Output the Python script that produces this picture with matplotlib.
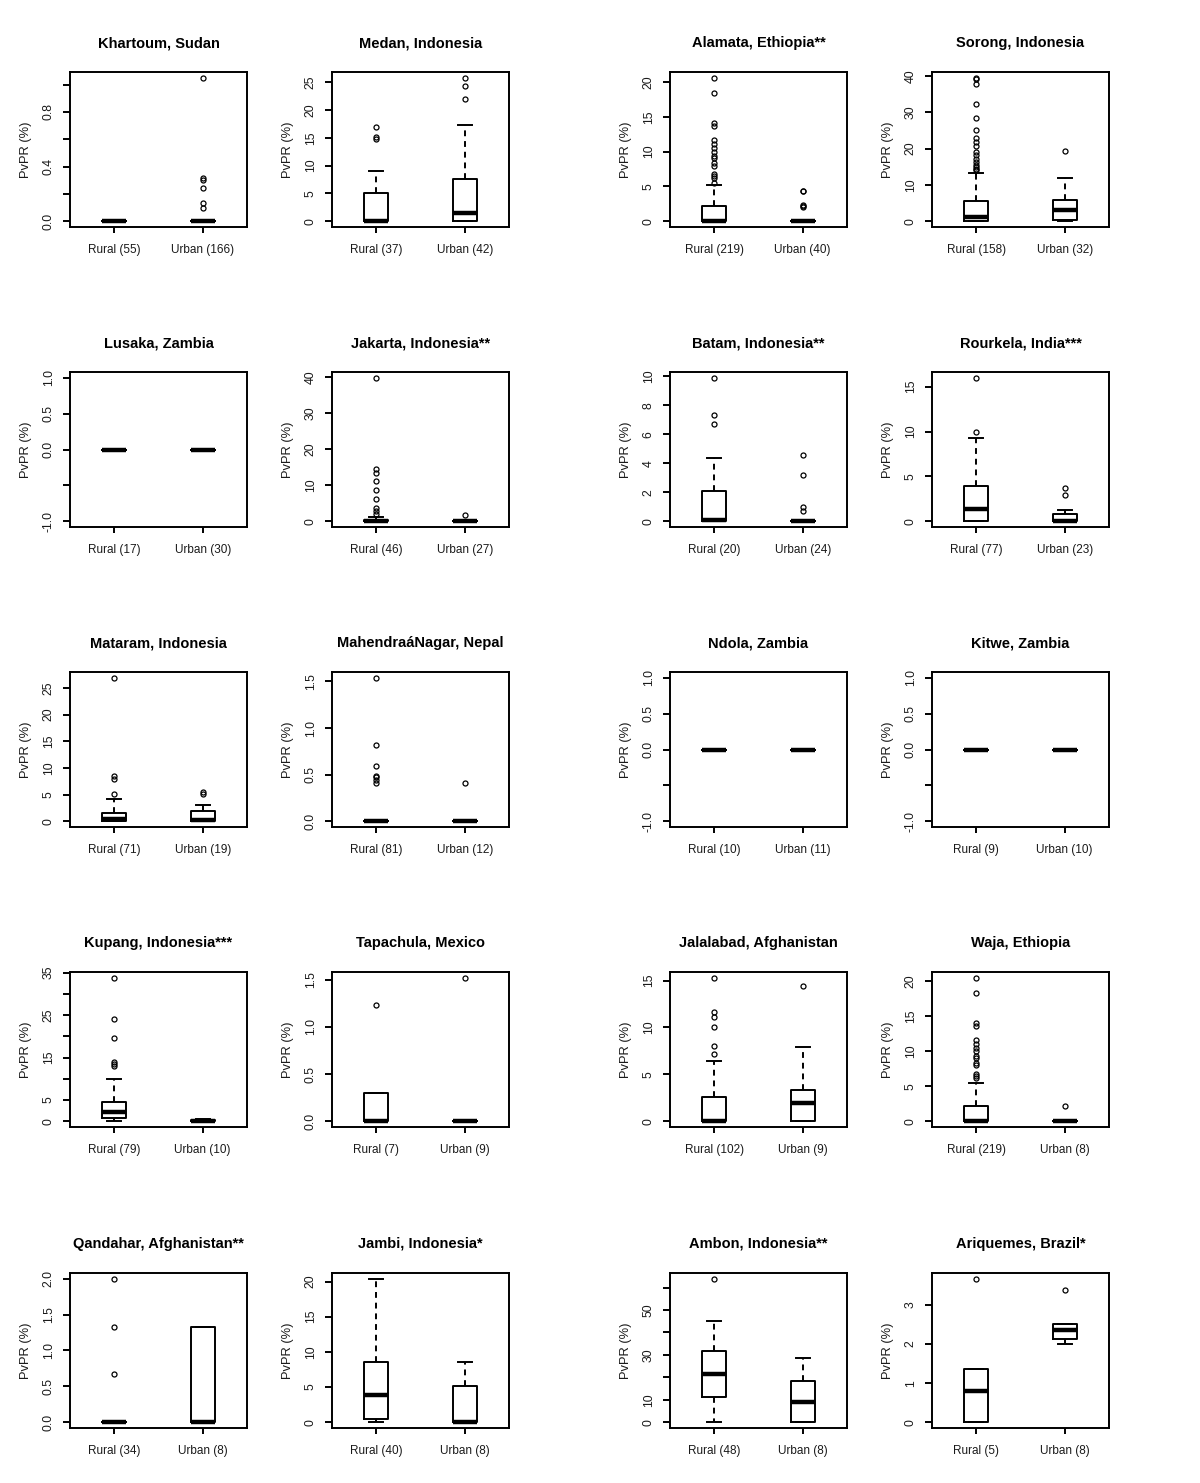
import numpy as np
import matplotlib
matplotlib.use("Agg")
import matplotlib.pyplot as plt

# ============================================================================
# DATA
# ============================================================================
titles = [
    "Khartoum, Sudan", "Medan, Indonesia", "Alamata, Ethiopia**", "Sorong, Indonesia",
    "Lusaka, Zambia", "Jakarta, Indonesia**", "Batam, Indonesia**", "Rourkela, India***",
    "Mataram, Indonesia", "MahendraáNagar, Nepal", "Ndola, Zambia", "Kitwe, Zambia",
    "Kupang, Indonesia***", "Tapachula, Mexico", "Jalalabad, Afghanistan", "Waja, Ethiopia",
    "Qandahar, Afghanistan**", "Jambi, Indonesia*", "Ambon, Indonesia**", "Ariquemes, Brazil*",
]
rural_n = [55, 37, 219, 158, 17, 46, 20, 77, 71, 81, 10, 9, 79, 7, 102, 219, 34, 40, 48, 5]
urban_n = [166, 42, 40, 32, 30, 27, 24, 23, 19, 12, 11, 10, 10, 9, 9, 8, 8, 8, 8, 8]

# (whisker low, q1, median, q3, whisker high)
rural_box = [
    (0, 0, 0, 0, 0), (0, 0, 0, 5.0, 9.1), (0, 0, 0, 2.2, 5.2), (0, 0, 1.1, 5.6, 13.3),
    (0, 0, 0, 0, 0), (0, 0, 0, 0.4, 1.2), (0, 0, 0.1, 2.1, 4.35), (0, 0, 1.35, 3.9, 9.25),
    (0, 0, 0.5, 1.6, 4.1), (0, 0, 0, 0, 0), (0, 0, 0, 0, 0), (0, 0, 0, 0, 0),
    (0, 0.7, 2.2, 4.6, 10.0), (0, 0, 0, 0.3, 0.3), (0, 0, 0, 2.6, 6.4), (0, 0, 0, 2.2, 5.4),
    (0, 0, 0, 0, 0), (0, 0.4, 3.9, 8.5, 20.4), (0, 11.4, 21.5, 31.9, 44.9), (0, 0, 0.8, 1.37, 1.37),
]
rural_fliers = [
    [],
    [14.7, 15.1, 16.9],
    [5.5, 6.2, 6.5, 6.8, 8.0, 8.3, 9.1, 9.3, 10.0, 10.5, 11.1, 11.7, 13.7, 14.1, 18.4, 20.6],
    [14.0, 14.3, 15.0, 15.6, 16.3, 17.0, 18.3, 19.0, 20.8, 21.7, 22.8, 25.0, 28.4, 32.3, 37.8, 39.1, 39.5],
    [],
    [1.9, 2.8, 3.7, 6.2, 8.8, 11.1, 13.5, 14.5, 39.8],
    [6.7, 7.3, 9.9],
    [10.0, 16.0],
    [5.2, 8.0, 8.5, 26.9],
    [0.41, 0.44, 0.47, 0.49, 0.59, 0.82, 1.54],
    [],
    [],
    [12.9, 13.4, 13.9, 19.6, 24.0, 33.8],
    [1.23],
    [7.2, 8.0, 10.0, 11.1, 11.6, 15.3],
    [6.2, 6.5, 6.8, 8.1, 8.3, 9.0, 9.3, 10.0, 10.5, 11.1, 11.6, 13.6, 14.0, 18.3, 20.5],
    [0.67, 1.33, 2.0],
    [],
    [63.9],
    [3.67],
]
urban_box = [
    (0, 0, 0, 0, 0), (0, 0, 1.45, 7.6, 17.3), (0, 0, 0, 0, 0), (0, 0.3, 3.0, 5.9, 12.0),
    (0, 0, 0, 0, 0), (0, 0, 0, 0, 0), (0, 0, 0, 0, 0), (0, 0, 0, 0.82, 1.2),
    (0, 0, 0.25, 1.9, 3.0), (0, 0, 0, 0, 0), (0, 0, 0, 0, 0), (0, 0, 0, 0, 0),
    (0, 0, 0, 0.3, 0.5), (0, 0, 0, 0, 0), (0, 0, 1.96, 3.3, 7.9), (0, 0, 0, 0, 0),
    (0, 0, 0, 1.33, 1.33), (0, 0, 0.1, 5.1, 8.6), (0, 0, 8.9, 18.4, 28.7), (2.0, 2.12, 2.37, 2.51, 2.51),
]
urban_fliers = [
    [0.10, 0.13, 0.24, 0.30, 0.32, 1.05],
    [21.9, 24.4, 25.8],
    [2.0, 2.2, 2.4, 4.3, 4.4],
    [19.3],
    [],
    [1.6],
    [0.74, 0.97, 3.17, 4.56],
    [2.9, 3.66],
    [5.1, 5.5],
    [0.41],
    [],
    [],
    [],
    [1.52],
    [14.46],
    [2.16],
    [],
    [],
    [],
    [3.38],
]

# y tick spacing and which tick values carry a label (R drops crowded ones)
y_steps = [0.2, 5, 5, 10, 0.5, 10, 2, 5, 5, 0.5, 0.5, 0.5, 5, 0.5, 5, 5, 0.5, 5, 10, 1]
y_labeled = [
    [0.0, 0.4, 0.8], [0, 5, 10, 15, 20, 25], [0, 5, 10, 15, 20], [0, 10, 20, 30, 40],
    [-1.0, 0.0, 0.5, 1.0], [0, 10, 20, 30, 40], [0, 2, 4, 6, 8, 10], [0, 5, 10, 15],
    [0, 5, 10, 15, 20, 25], [0.0, 0.5, 1.0, 1.5], [-1.0, 0.0, 0.5, 1.0], [-1.0, 0.0, 0.5, 1.0],
    [0, 5, 15, 25, 35], [0.0, 0.5, 1.0, 1.5], [0, 5, 10, 15], [0, 5, 10, 15, 20],
    [0.0, 0.5, 1.0, 1.5, 2.0], [0, 5, 10, 15, 20], [0, 10, 30, 50], [0, 1, 2, 3],
]

# ============================================================================
# LAYOUT
# ============================================================================
W, H = 1200, 1483
col_left = [70, 332, 670, 932]
row_top = [72, 372, 672, 972, 1273]
ax_w, ax_h = 177, 155

plt.rcParams.update({
    'font.family': ['Liberation Sans', 'DejaVu Sans'],
    'axes.linewidth': 1.4,
})


def make_stats(box, fliers, label):
    lo, q1, med, q3, hi = box
    return {'whislo': lo, 'q1': q1, 'med': med, 'q3': q3, 'whishi': hi,
            'fliers': fliers, 'label': label}


def y_limits(box_a, fl_a, box_b, fl_b):
    vals = list(box_a) + list(fl_a) + list(box_b) + list(fl_b)
    lo, hi = min(vals), max(vals)
    if hi == lo:
        lo, hi = lo - 1, hi + 1
    pad = 0.04 * (hi - lo)
    return lo - pad, hi + pad


fig = plt.figure(figsize=(W / 100, H / 100), dpi=100)

for i in range(len(titles)):
    r, c = divmod(i, 4)
    left = col_left[c] / W
    bottom = 1 - (row_top[r] + ax_h) / H
    ax = fig.add_axes([left, bottom, ax_w / W, ax_h / H])

    stats = [
        make_stats(rural_box[i], rural_fliers[i], f"Rural ({rural_n[i]})"),
        make_stats(urban_box[i], urban_fliers[i], f"Urban ({urban_n[i]})"),
    ]
    ax.bxp(
        stats, positions=[1, 2], widths=0.27, capwidths=0.16,
        boxprops=dict(color='black', linewidth=1.4),
        medianprops=dict(color='black', linewidth=3.2, solid_capstyle='butt'),
        whiskerprops=dict(color='black', linewidth=1.4, linestyle=(0, (3, 2.5))),
        capprops=dict(color='black', linewidth=1.4),
        flierprops=dict(marker='o', markerfacecolor='none', markeredgecolor='black',
                        markersize=3.6, markeredgewidth=0.9),
    )

    ax.set_xlim(0.5, 2.5)
    lo, hi = y_limits(rural_box[i], rural_fliers[i], urban_box[i], urban_fliers[i])
    ax.set_ylim(lo, hi)

    step = y_steps[i]
    ticks = np.round(np.arange(np.ceil(lo / step) * step, hi + 1e-9, step), 6) + 0.0
    dec = 1 if step < 1 else 0
    labels = []
    for t in ticks:
        if any(abs(t - v) < 1e-9 for v in y_labeled[i]):
            txt = f"{t:.{dec}f}"
            if txt in ("-0", "-0.0"):
                txt = txt[1:]
            labels.append(txt)
        else:
            labels.append("")
    ax.set_yticks(ticks)
    ax.set_yticklabels(labels, rotation=90, va='center', fontsize=8.8, color='#1a1a1a')
    ax.set_xticks([1, 2])
    ax.set_xticklabels([s['label'] for s in stats], fontsize=8.5, color='#1a1a1a')

    ax.tick_params(axis='y', direction='out', length=5, width=1.4, pad=6)
    ax.tick_params(axis='x', direction='out', length=4.5, width=1.4, pad=8)

    ax.set_ylabel('PvPR (%)', fontsize=9.3, color='#1a1a1a')
    ax.yaxis.set_label_coords(-0.215, 0.5)
    ax.set_title(titles[i], fontsize=10.5, fontweight='bold', pad=18)

fig.savefig('out.png', dpi=100, facecolor='white')
